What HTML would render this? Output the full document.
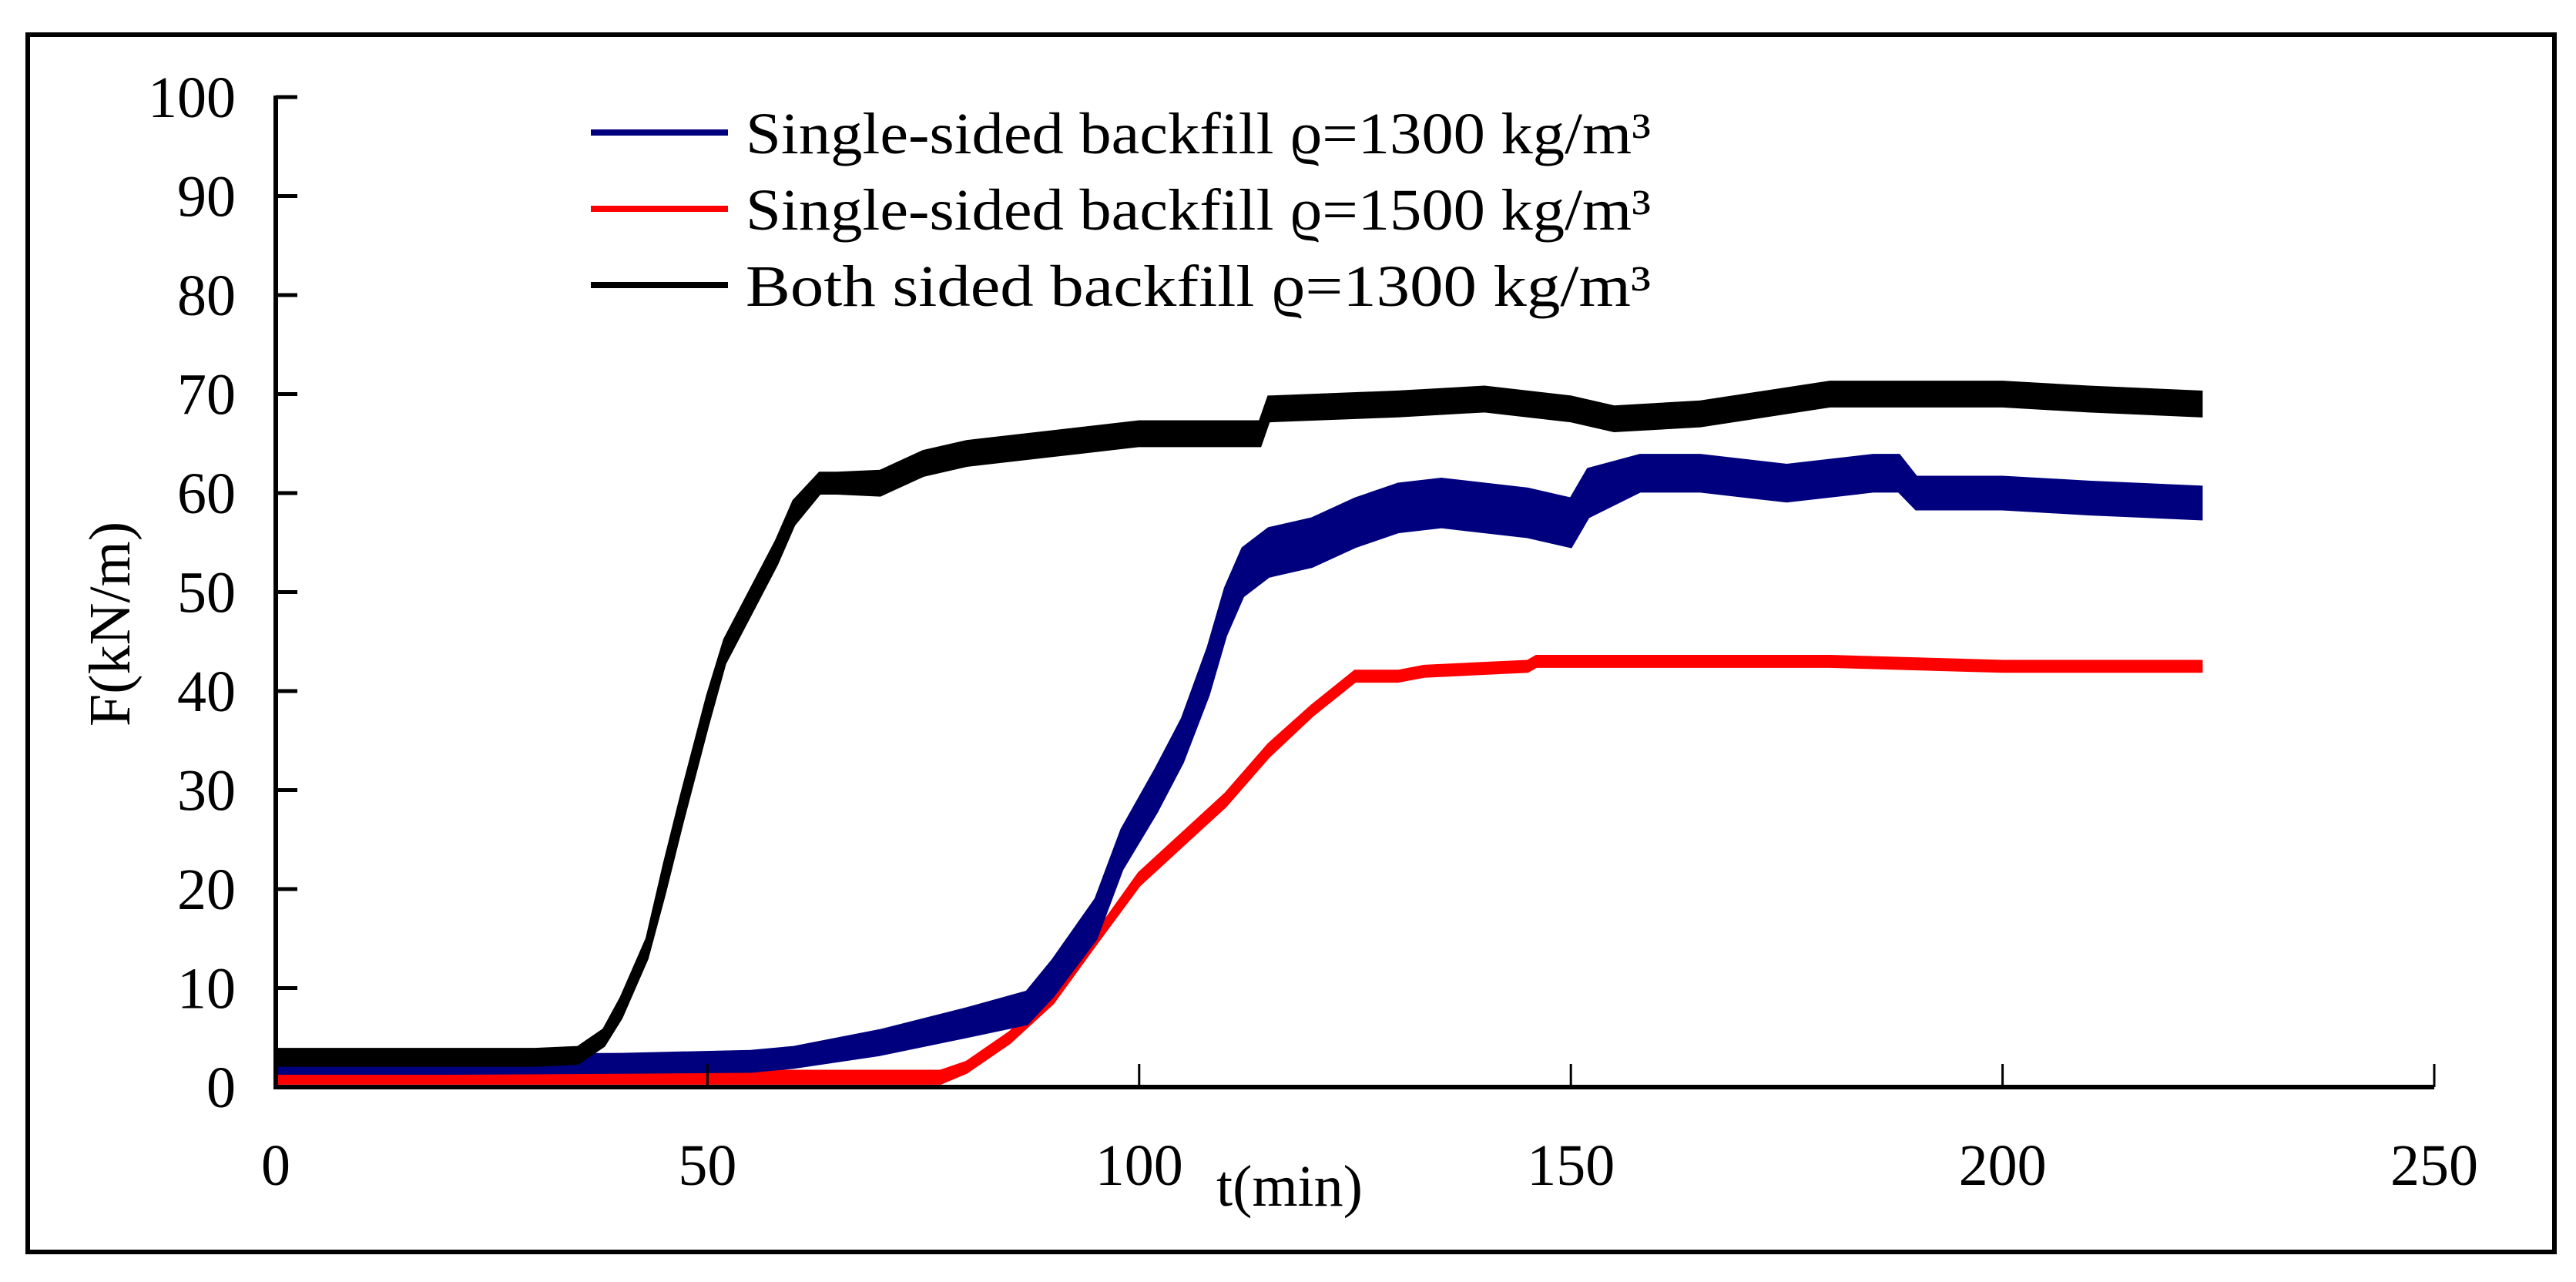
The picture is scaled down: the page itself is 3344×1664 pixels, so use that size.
<!DOCTYPE html>
<html><head><meta charset="utf-8"><style>
html,body{margin:0;padding:0;background:#fff;}
svg{display:block;}
text{font-family:"Liberation Serif",serif;fill:#000;}
</style></head><body>
<svg id="chart" width="3344" height="1664" viewBox="0 0 3344 1664">
<rect x="36" y="45" width="3280" height="1580" fill="#fff" stroke="#000" stroke-width="6"/>
<g id="plot"></g>
</svg>
<script>
const xTicks=[0,50,100,150,200,250];
const yTicks=[0,10,20,30,40,50,60,70,80,90,100];
const tBlack=[0,10,20,30,35,38,40,43,45,47,50,52,55,58,60,63,65,70,75,80,90,100,114,115,130,140,150,155,165,180,190,200,210,223];
const vBlack=[3,3,3,3,3.2,5,8,14,21,28,38,44,49,54,58,61,61,61,63,64,65,66,66,68.5,69,69.5,68.5,67.5,68,70,70,70,69.5,69];
const nBlack=[0.8,0.8,0.8,0.8,0.8,0.8,1,1,1.5,1.5,1.5,1.2,1.2,1.2,1.2,1,1,1.2,1.2,1.2,1.2,1.2,1.2,1.2,1.2,1.2,1.2,1.2,1.2,1.2,1.2,1.2,1.2,1.2];
const tBlue=[0,20,40,55,60,70,80,87,90,95,98,102,105,108,110,112,115,120,125,130,135,145,150,152,158,165,175,185,188,190,200,210,223];
const vBlue=[2.3,2.3,2.4,2.6,3,4.5,6.5,8,11,17,24,30,35,42,48,52,54,55,57,58.5,59,58,57,60,62,62,61,62,62,60,60,59.5,59];
const nBlue=[0.9,0.9,0.9,1,1,1.2,1.4,1.6,1.8,2,2,2.2,2.2,2.4,2.4,2.4,2.4,2.4,2.4,2.4,2.4,2.4,2.4,2.4,1.8,1.8,1.8,1.8,1.8,1.6,1.6,1.6,1.6];
const tRed=[0,40,77,80,85,90,95,100,105,110,115,120,125,130,133,145,146,160,180,200,223];
const vRed=[1,1,1,2,5,9,15,21,25,29,34,38,41.5,41.5,42,42.5,43,43,43,42.5,42.5];
const nRed=[0.6,0.6,0.6,0.5,0.5,0.5,0.5,0.6,0.6,0.6,0.6,0.5,0.5,0.5,0.5,0.5,0.5,0.5,0.5,0.5,0.5];
const legendLabels=["Single-sided backfill \u03f1=1300 kg/m\u00b3","Single-sided backfill \u03f1=1500 kg/m\u00b3","Both sided backfill \u03f1=1300 kg/m\u00b3"];

const X0=358,X1=3160,Y0=1411,Y1=126;
const sx=v=>X0+(v-0)/250*(X1-X0);
const sy=v=>Y0-(v-0)/100*(Y0-Y1);
const NS="http://www.w3.org/2000/svg";
const g=document.getElementById('plot');
function mk(tag,attrs,parent){const e=document.createElementNS(NS,tag);for(const k in attrs)e.setAttribute(k,attrs[k]);(parent||g).appendChild(e);return e;}

// series
function series(t,v,n,color,name){
  let up=t.map((x,i)=>sx(x)+','+sy(v[i]+n[i]));
  let lo=t.map((x,i)=>sx(x)+','+sy(v[i]-n[i])).reverse();
  const band=mk('polygon',{points:up.concat(lo).join(' '),fill:color,stroke:color,'stroke-width':4});
  
  
  const line=mk('polyline',{points:t.map((x,i)=>sx(x)+','+sy(v[i])).join(' '),fill:'none',stroke:color,'stroke-width':7});
  
  
}
series(tRed,vRed,nRed,'#ff0000','red-series-1500');
series(tBlue,vBlue,nBlue,'#00007f','blue-series-1300');
series(tBlack,vBlack,nBlack,'#000000','black-series-both');

// axes
const ya=mk('line',{x1:X0,y1:Y1-2,x2:X0,y2:Y0+2,stroke:'#000','stroke-width':6});


const xa=mk('line',{x1:X0-3,y1:Y0,x2:X1,y2:Y0,stroke:'#000','stroke-width':6});


yTicks.forEach(v=>{
  const tk=mk('line',{x1:X0,y1:sy(v),x2:X0+28,y2:sy(v),stroke:'#000','stroke-width':5});
  
  
  const tx=mk('text',{x:306,y:sy(v)+26,'text-anchor':'end','font-size':76});
  tx.textContent=v;
  
  
});
xTicks.forEach(v=>{
  const tk=mk('line',{x1:sx(v),y1:Y0,x2:sx(v),y2:Y0-30,stroke:'#000','stroke-width':3});
  
  
  const tx=mk('text',{x:sx(v),y:1538,'text-anchor':'middle','font-size':76});
  tx.textContent=v;
  
  
});
const xt=mk('text',{x:1674,y:1565,'text-anchor':'middle','font-size':76});
xt.textContent='t(min)';


const yt=mk('text',{x:0,y:0,'text-anchor':'middle','font-size':76,transform:'translate(168,810) rotate(-90)'});
yt.textContent='F(kN/m)';



// legend
const lc=['#00007f','#ff0000','#000000'];
const ly=[172,271,370];
legendLabels.forEach((s,i)=>{
  const l=mk('line',{x1:767,y1:ly[i],x2:945,y2:ly[i],stroke:lc[i],'stroke-width':8});
  
  
  const tx=mk('text',{x:968,y:ly[i]+27,'font-size':76,textLength:1175,lengthAdjust:'spacingAndGlyphs'});
  tx.textContent=s;
  
  
});
</script>
</body></html>
